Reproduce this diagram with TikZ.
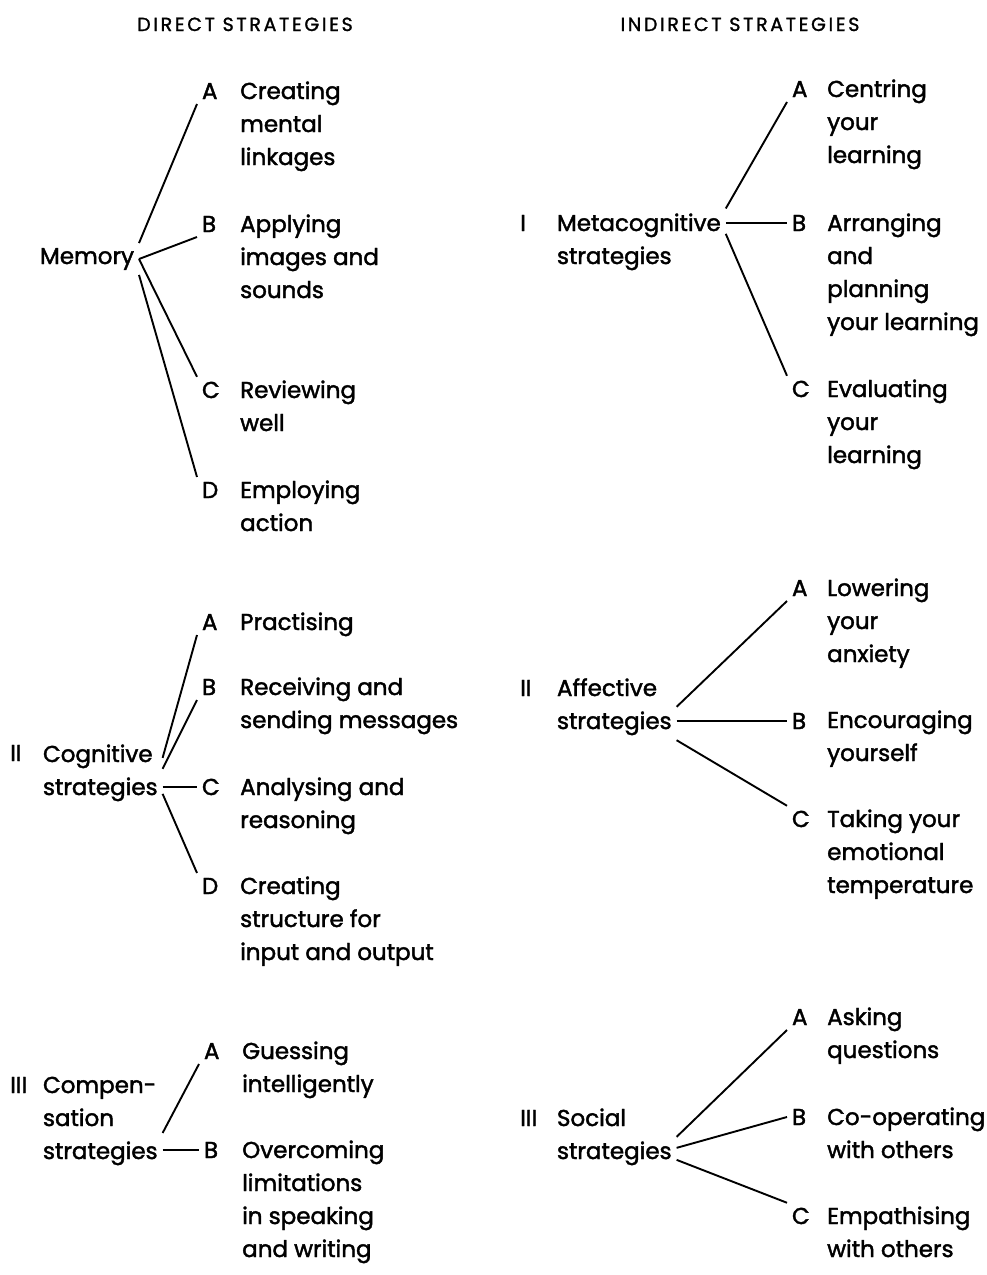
\documentclass[tikz,border=0pt]{standalone}
\usepackage{fontspec}
\setmainfont{Poppins}[FakeBold=1.8]
\newfontfamily\headfont{Poppins}[LetterSpace=14, FakeBold=1.4]

\tikzset{
  head/.style={anchor=base, inner sep=0pt, font=\headfont\fontsize{19}{22}\selectfont},
  txt/.style={anchor=base west, inner sep=0pt, align=left, font=\fontsize{23}{33}\selectfont},
  key/.style={txt, outer sep=5pt},
  branch/.style={line width=1.9pt}
}

\begin{document}
\begin{tikzpicture}[x=1pt, y=-1pt]
        \useasboundingbox (0, 0) rectangle (987, 1275);
        \node[head] (dirhead) at (245, 31) {DIRECT STRATEGIES};
        \node[head] (indhead) at (740, 31) {INDIRECT STRATEGIES};
        % memory (multi-line texts sit on their last baseline)
        \node[key] (mem) at (35, 264) {Memory};
        \node[key] (memA) at (197, 99) {A};
        \node[key] (memB) at (197, 232) {B};
        \node[key] (memC) at (197, 398) {C};
        \node[key] (memD) at (197, 498) {D};
        \node[txt] (memAt) at (240, 165) {Creating\\mental\\linkages};
        \node[txt] (memBt) at (240, 298) {Applying\\images and\\sounds};
        \node[txt] (memCt) at (240, 431) {Reviewing\\well};
        \node[txt] (memDt) at (240, 531) {Employing\\action};
        \draw[branch] (mem.north east) -- (memA.south west);
        \draw[branch] (mem.east) -- (memB.south west);
        \draw[branch] (mem.east) -- (memC.north west);
        \draw[branch] (mem.south east) -- (memD.north west);
        % cognitive
        \node[txt] (cognum) at (10, 761) {II};
        \node[key] (cog) at (38, 795) {Cognitive\\strategies};
        \node[key] (cogA) at (197, 630) {A};
        \node[key] (cogB) at (197, 695) {B};
        \node[key] (cogC) at (197, 795) {C};
        \node[key] (cogD) at (197, 894) {D};
        \node[txt] (cogAt) at (240, 630) {Practising};
        \node[txt] (cogBt) at (240, 728) {Receiving and\\sending messages};
        \node[txt] (cogCt) at (240, 828) {Analysing and\\reasoning};
        \node[txt] (cogDt) at (240, 960) {Creating\\structure for\\input and output};
        \draw[branch] ([yshift=15]cog.east) -- (cogA.south west);
        \draw[branch] ([yshift=4]cog.east) -- (cogB.south west);
        \draw[branch] (cogC.west -| cog.east) -- (cogC.west);
        \draw[branch] ([yshift=-21]cog.east) -- (cogD.north west);
        % compensation
        \node[txt] (compnum) at (10, 1093) {III};
        \node[key] (comp) at (38, 1159) {Compen-\\sation\\strategies};
        \node[key] (compA) at (199, 1059) {A};
        \node[key] (compB) at (199, 1158) {B};
        \node[txt] (compAt) at (242, 1092) {Guessing\\intelligently};
        \node[txt] (compBt) at (242, 1257) {Overcoming\\limitations\\in speaking\\and writing};
        \draw[branch] ([yshift=-12]comp.east) -- (compA.south west);
        \draw[branch] (compB.west -| comp.east) -- (compB.west);
        % metacognitive
        \node[txt] (metanum) at (520, 231) {I};
        \node[key] (meta) at (552, 264) {Metacognitive\\strategies};
        \node[key] (metaA) at (787, 97) {A};
        \node[key] (metaB) at (787, 231) {B};
        \node[key] (metaC) at (787, 397) {C};
        \node[txt] (metaAt) at (827, 163) {Centring\\your\\learning};
        \node[txt] (metaBt) at (827, 330) {Arranging\\and\\planning\\your learning};
        \node[txt] (metaCt) at (827, 463) {Evaluating\\your\\learning};
        \draw[branch] (meta.north east) -- (metaA.south west);
        \draw[branch] (metaB.west -| meta.east) -- (metaB.west);
        \draw[branch] ([yshift=8]meta.east) -- (metaC.north west);
        % affective
        \node[txt] (affnum) at (520, 696) {II};
        \node[key] (aff) at (552, 729) {Affective\\strategies};
        \node[key] (affA) at (787, 596) {A};
        \node[key] (affB) at (787, 729) {B};
        \node[key] (affC) at (787, 827) {C};
        \node[txt] (affAt) at (827, 662) {Lowering\\your\\anxiety};
        \node[txt] (affBt) at (827, 761) {Encouraging\\yourself};
        \node[txt] (affCt) at (827, 893) {Taking your\\emotional\\temperature};
        \draw[branch] (aff.east) -- (affA.south west);
        \draw[branch] (affB.west -| aff.east) -- (affB.west);
        \draw[branch] (aff.south east) -- (affC.north west);
        % social
        \node[txt] (socnum) at (520, 1126) {III};
        \node[key] (soc) at (552, 1159) {Social\\strategies};
        \node[key] (socA) at (787, 1025) {A};
        \node[key] (socB) at (787, 1125) {B};
        \node[key] (socC) at (787, 1224) {C};
        \node[txt] (socAt) at (827, 1058) {Asking\\questions};
        \node[txt] (socBt) at (827, 1158) {Co-operating\\with others};
        \node[txt] (socCt) at (827, 1257) {Empathising\\with others};
        \draw[branch] (soc.east) -- (socA.south west);
        \draw[branch] ([yshift=-11]soc.east) -- (socB.west);
        \draw[branch] ([yshift=-23]soc.east) -- (socC.north west);
\end{tikzpicture}
\end{document}
